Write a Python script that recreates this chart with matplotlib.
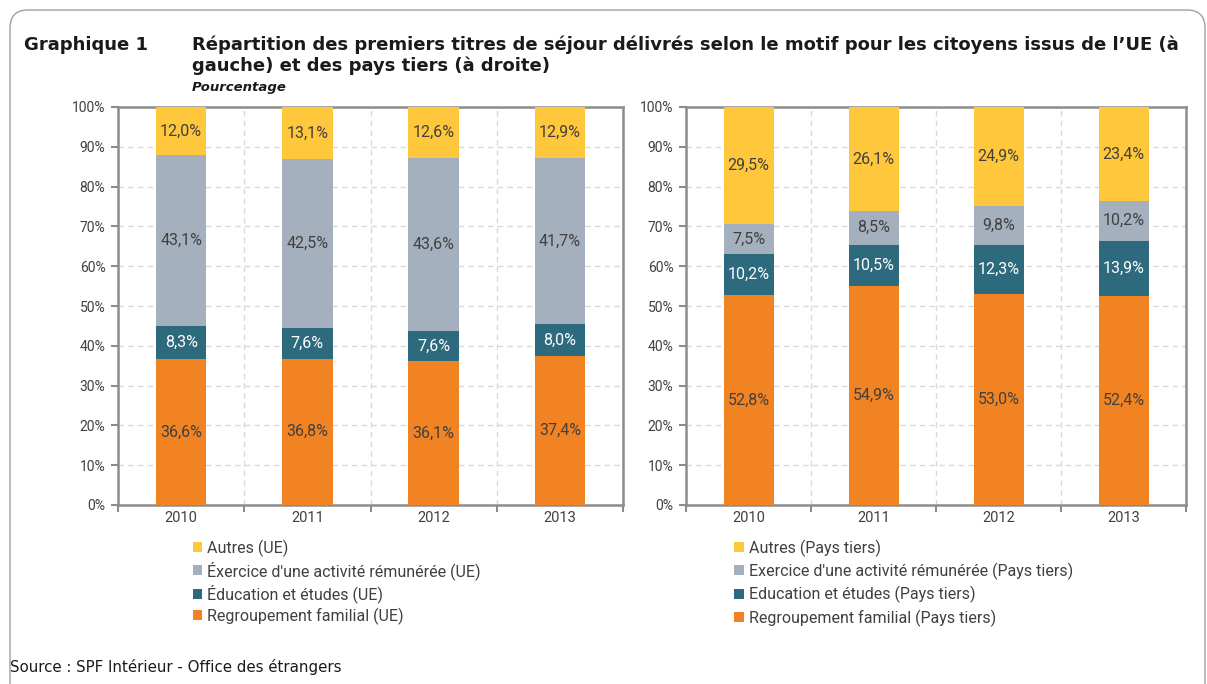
import matplotlib.pyplot as plt
from matplotlib.patches import FancyBboxPatch, Patch
from matplotlib.transforms import IdentityTransform
import numpy as np

years = ['2010', '2011', '2012', '2013']

# UE (gauche)
ue_regroupement = [36.6, 36.8, 36.1, 37.4]
ue_education = [8.3, 7.6, 7.6, 8.0]
ue_exercice = [43.1, 42.5, 43.6, 41.7]
ue_autres = [12.0, 13.1, 12.6, 12.9]

# Pays tiers (droite)
pt_regroupement = [52.8, 54.9, 53.0, 52.4]
pt_education = [10.2, 10.5, 12.3, 13.9]
pt_exercice = [7.5, 8.5, 9.8, 10.2]
pt_autres = [29.5, 26.1, 24.9, 23.4]

ue_labels = ['Regroupement familial (UE)', 'Éducation et études (UE)',
             "Éxercice d'une activité rémunérée (UE)", 'Autres (UE)']
pt_labels = ['Regroupement familial (Pays tiers)', 'Education et études (Pays tiers)',
             "Exercice d'une activité rémunérée (Pays tiers)", 'Autres (Pays tiers)']

colors = ['#F28322', '#2E6A7E', '#A5B0BE', '#FFC73B']
label_colors = ['#404040', 'white', '#404040', '#404040']
txt = '#404040'
spine_col = '#8C8C8C'

plt.rcParams['font.family'] = ['Roboto', 'DejaVu Sans']

fig = plt.figure(figsize=(12.07, 6.84), dpi=100)

# cadre arrondi
frame = FancyBboxPatch((10, -40), 1195, 714, boxstyle='round,pad=0,rounding_size=18',
                       transform=IdentityTransform(), fill=False, edgecolor='#A0A0A0', lw=1.0)
fig.patches.append(frame)

fig.text(24 / 1207, 1 - 45 / 684, 'Graphique 1', fontsize=13, fontweight='bold',
         family='DejaVu Sans', va='center', ha='left', color='#1a1a1a')
fig.text(192 / 1207, 1 - 45 / 684,
         "Répartition des premiers titres de séjour délivrés selon le motif pour les citoyens issus de l\u2019UE (à",
         fontsize=13, fontweight='bold', family='DejaVu Sans', va='center', ha='left', color='#1a1a1a')
fig.text(192 / 1207, 1 - 66 / 684, 'gauche) et des pays tiers (à droite)',
         fontsize=13, fontweight='bold', family='DejaVu Sans', va='center', ha='left', color='#1a1a1a')
fig.text(192 / 1207, 1 - 87 / 684, 'Pourcentage', fontsize=9.5, fontweight='bold',
         style='italic', family='DejaVu Sans', va='center', ha='left', color='#1a1a1a')
fig.text(10 / 1207, 1 - 667 / 684, 'Source : SPF Intérieur - Office des étrangers',
         fontsize=10.8, family='DejaVu Sans', va='center', ha='left', color='#1a1a1a')


def draw(ax, series, labels, leg_x, leg_sp):
    x = np.arange(len(years))
    bottom = np.zeros(len(years))
    for vals, c, lc in zip(series, colors, label_colors):
        ax.bar(x, vals, 0.4, bottom=bottom, color=c, zorder=3)
        for xi, b, v in zip(x, bottom, vals):
            ax.text(xi, b + v / 2, f'{v:.1f}%'.replace('.', ','), ha='center', va='center',
                    fontsize=11.5, color=lc, zorder=4)
        bottom += np.array(vals)
    ax.set_xlim(-0.5, 3.5)
    ax.set_ylim(0, 100)
    ax.set_yticks(np.arange(0, 101, 10))
    ax.set_yticklabels([f'{v}%' for v in range(0, 101, 10)])
    ax.set_xticks(np.arange(-0.5, 3.6, 1))
    ax.set_xticklabels([])
    ax.set_xticks(x, minor=True)
    ax.set_xticklabels(years, minor=True)
    ax.tick_params(axis='x', which='minor', length=0, labelsize=10.5, labelcolor=txt, pad=4)
    ax.tick_params(axis='x', which='major', length=5, width=1.5, color=spine_col)
    ax.tick_params(axis='y', length=5, width=1.5, color=spine_col, labelsize=10,
                   labelcolor=txt, pad=4)
    ax.grid(True, which='major', axis='both', ls=(0, (4, 3)), color='#D9D9D9', lw=1, zorder=0)
    for s in ax.spines.values():
        s.set_color(spine_col)
        s.set_linewidth(1.8)
    handles = [Patch(facecolor=c, edgecolor='none') for c in colors]
    ax.legend(handles[::-1], labels[::-1], loc='upper left', bbox_to_anchor=(leg_x, -0.07),
              frameon=False, handlelength=0.6, handleheight=0.6, handletextpad=0.3,
              labelspacing=leg_sp, fontsize=11.5, labelcolor=txt, borderaxespad=0)


ax1 = fig.add_axes([118 / 1207, 1 - 505 / 684, 505 / 1207, 398 / 684])
draw(ax1, [ue_regroupement, ue_education, ue_exercice, ue_autres], ue_labels, 0.135, 0.28)
ax2 = fig.add_axes([686 / 1207, 1 - 505 / 684, 500 / 1207, 398 / 684])
draw(ax2, [pt_regroupement, pt_education, pt_exercice, pt_autres], pt_labels, 0.084, 0.38)

fig.savefig('out.png', dpi=100)
